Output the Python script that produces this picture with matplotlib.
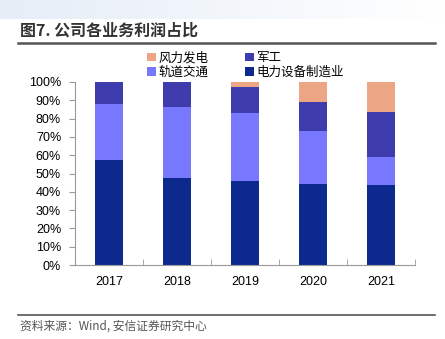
import numpy as np
import matplotlib.pyplot as plt
from matplotlib.ticker import FixedLocator, PercentFormatter

plt.rcParams["font.family"] = ["Liberation Sans", "Noto Sans CJK SC", "DejaVu Sans"]
cjk = ["Noto Sans CJK SC", "DejaVu Sans"]

years = ["2017", "2018", "2019", "2020", "2021"]
power_equip = [57.5, 47.5, 45.7, 44.1, 43.7]   # 电力设备制造业
rail = [30.5, 39.0, 37.2, 29.3, 15.1]          # 轨道交通
military = [12.0, 13.5, 14.4, 15.7, 25.0]      # 军工
wind = [0.0, 0.0, 2.7, 10.9, 16.2]             # 风力发电

W, H = 445, 339
fig = plt.figure(figsize=(W / 100, H / 100), dpi=100)

# 顶部浅蓝渐变条
grad = np.linspace(0, 1, 256).reshape(1, -1)
bg = fig.add_axes([0, 1 - 19 / H, 1, 19 / H])
c0 = np.array([0.90, 0.93, 0.97])
c1 = np.array([1.0, 1.0, 1.0])
img = c0[None, None, :] * (1 - grad[..., None]) + c1[None, None, :] * grad[..., None]
bg.imshow(img, aspect="auto", extent=[0, 1, 0, 1])
bg.axis("off")

fig.text(20 / W, 1 - 31 / H, "图7. 公司各业务利润占比", fontsize=11.5, fontweight="bold",
         color="#333333", va="center", ha="left", family=cjk)
fig.add_artist(plt.Line2D([18 / W, 435 / W], [1 - 43 / H, 1 - 43 / H], color="#555555", lw=1.8))
fig.add_artist(plt.Line2D([18 / W, 435 / W], [1 - 315 / H, 1 - 315 / H], color="#555555", lw=1.2))
fig.text(20 / W, 1 - 326 / H, "资料来源：Wind, 安信证券研究中心", fontsize=8.5, style="italic",
         color="#555555", va="center", ha="left", family=cjk)

ax = fig.add_axes([75 / W, (H - 265) / H, 340 / W, (265 - 82) / H])
x = np.arange(len(years))
w = 0.41
c_power, c_rail, c_mil, c_wind = "#0c2a8e", "#7878fe", "#3f3cae", "#eca685"

b1 = ax.bar(x, power_equip, w, color=c_power, label="电力设备制造业")
bottom = np.array(power_equip)
b2 = ax.bar(x, rail, w, bottom=bottom, color=c_rail, label="轨道交通")
bottom = bottom + np.array(rail)
b3 = ax.bar(x, military, w, bottom=bottom, color=c_mil, label="军工")
bottom = bottom + np.array(military)
b4 = ax.bar(x, wind, w, bottom=bottom, color=c_wind, label="风力发电")

ax.set_xlim(-0.5, 4.5)
ax.set_ylim(0, 100)
ax.set_yticks(np.arange(0, 101, 10))
ax.yaxis.set_major_formatter(PercentFormatter(decimals=0))
ax.set_xticks(x)
ax.set_xticklabels(years)
ax.xaxis.set_minor_locator(FixedLocator(np.arange(-0.5, 5, 1)))
ax.tick_params(axis="x", which="major", length=0, pad=8, labelsize=9)
ax.tick_params(axis="x", which="minor", length=4, color="#999999", direction="in")
ax.tick_params(axis="y", length=4, color="#999999", labelsize=9, pad=6)
for s in ["top", "right"]:
    ax.spines[s].set_visible(False)
for s in ["left", "bottom"]:
    ax.spines[s].set_color("#999999")
    ax.spines[s].set_linewidth(0.8)

fig.legend([b4, b2, b3, b1], ["风力发电", "轨道交通", "军工", "电力设备制造业"],
           ncol=2, frameon=False, loc="center left", prop={"family": cjk, "size": 9},
           bbox_to_anchor=(141 / W, 1 - 65 / H), handlelength=0.7, handleheight=0.7,
           handletextpad=0.2, columnspacing=2.9, labelspacing=0.1, borderpad=0)

fig.savefig("out.png", dpi=100)
